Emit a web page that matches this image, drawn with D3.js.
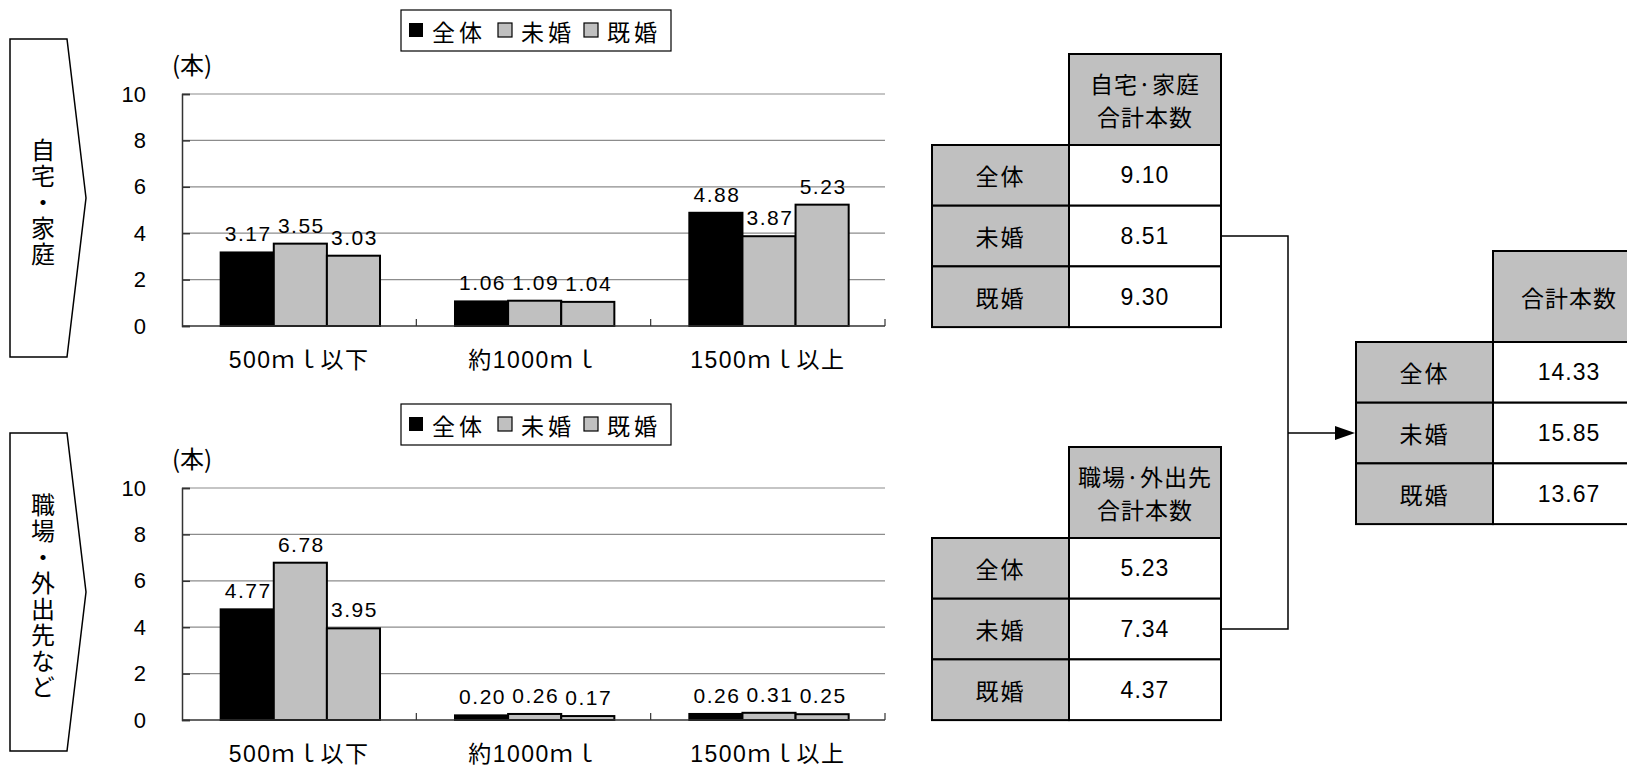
<!DOCTYPE html>
<html>
  <head>
    <meta charset="utf-8">
    <title>本数</title>
    <style>
      body { margin: 0; background: #fff; }
      svg { display: block; }
    </style>
  </head>
  <body>
    <div id="container"></div>
    <script src="https://cdn.jsdelivr.net/npm/d3@7/dist/d3.min.js"></script>
    <script>
      // data
      var categories = ["500ｍｌ以下", "約1000ｍｌ", "1500ｍｌ以上"];
      var groups = ["全体", "未婚", "既婚"];
      var yTicks = [0, 2, 4, 6, 8, 10];

      var homeAll = [3.17, 1.06, 4.88];
      var homeSingle = [3.55, 1.09, 3.87];
      var homeMarried = [3.03, 1.04, 5.23];

      var outAll = [4.77, 0.20, 0.26];
      var outSingle = [6.78, 0.26, 0.31];
      var outMarried = [3.95, 0.17, 0.25];

      var homeTotals = [9.10, 8.51, 9.30];
      var outTotals = [5.23, 7.34, 4.37];
      var grandTotals = [14.33, 15.85, 13.67];

      var homeTitle = "自宅・家庭";
      var outTitle = "職場・外出先など";

      var W = 1627, H = 768;
      var fills = ["#000000", "#c0c0c0", "#c0c0c0"];
      var latin = "'Liberation Sans', Arial, 'Noto Sans CJK JP', sans-serif";
      var cjk = "'Noto Sans CJK JP', 'Liberation Sans', sans-serif";

      var svg = d3.select("#container").append("svg")
        .attr("width", W)
        .attr("height", H);

      function drawChart(top, series, title) {
        var x0 = d3.scaleBand().domain(categories).range([182, 885]);
        var x1 = d3.scaleBand().domain(groups)
          .range([x0.bandwidth() * 0.165, x0.bandwidth() * 0.845]);
        var y = d3.scaleLinear().domain([0, 10]).range([top + 232, top]);

        var g = svg.append("g");

        // arrow-shaped side box
        var b0 = top - 55, b1 = top + 263;
        g.append("path")
          .attr("d", "M10," + b0 + "L67," + b0 + "L86," + ((b0 + b1) / 2) +
                     "L67," + b1 + "L10," + b1 + "Z")
          .attr("fill", "#fff")
          .attr("stroke", "#000")
          .attr("stroke-width", 1.5);

        g.append("text")
          .text(title)
          .attr("x", 43)
          .attr("y", (b0 + b1) / 2 + 5)
          .attr("text-anchor", "middle")
          .style("writing-mode", "vertical-rl")
          .attr("font-family", cjk)
          .attr("font-size", 24)
          .attr("letter-spacing", 2)
          .attr("fill", "#000");

        // gridlines
        g.selectAll(".grid")
          .data(yTicks.slice(1))
          .enter().append("line")
            .attr("x1", 182).attr("x2", 885)
            .attr("y1", function(d) { return y(d); })
            .attr("y2", function(d) { return y(d); })
            .attr("stroke", "#8c8c8c")
            .attr("stroke-width", 1.2);

        // y axis
        var ya = g.append("g")
          .attr("transform", "translate(182,0)")
          .call(d3.axisRight(y).tickValues(yTicks).tickSize(8).tickFormat(""));
        ya.selectAll("path, line").attr("stroke", "#333").attr("stroke-width", 1.5);

        g.selectAll(".ytl")
          .data(yTicks)
          .enter().append("text")
            .text(function(d) { return d; })
            .attr("x", 146)
            .attr("y", function(d) { return y(d); })
            .attr("text-anchor", "end")
            .attr("dominant-baseline", "central")
            .attr("font-family", latin)
            .attr("font-size", 22)
            .attr("fill", "#000");

        g.append("text")
          .text("(本)")
          .attr("x", 192)
          .attr("y", top - 31)
          .attr("text-anchor", "middle")
          .attr("dominant-baseline", "central")
          .attr("font-family", cjk)
          .attr("font-size", 24)
          .attr("fill", "#000");

        // bars
        var rows = categories.map(function(c, i) {
          return groups.map(function(s, j) {
            return {cat: c, grp: s, j: j, v: series[j][i]};
          });
        });

        var cat = g.selectAll(".cat")
          .data(rows)
          .enter().append("g")
            .attr("transform", function(d) { return "translate(" + x0(d[0].cat) + ",0)"; });

        cat.selectAll("rect")
          .data(function(d) { return d; })
          .enter().append("rect")
            .attr("x", function(d) { return x1(d.grp); })
            .attr("width", x1.bandwidth())
            .attr("y", function(d) { return y(d.v); })
            .attr("height", function(d) { return y(0) - y(d.v); })
            .attr("fill", function(d) { return fills[d.j]; })
            .attr("stroke", "#000")
            .attr("stroke-width", 2);

        cat.selectAll(".lbl")
          .data(function(d) { return d; })
          .enter().append("text")
            .text(function(d) { return d.v.toFixed(2); })
            .attr("x", function(d) { return x1(d.grp) + x1.bandwidth() / 2 + 1; })
            .attr("y", function(d) { return y(d.v) - 11; })
            .attr("text-anchor", "middle")
            .attr("font-family", latin)
            .attr("font-size", 21)
            .attr("letter-spacing", 1.5)
            .attr("fill", "#000");

        // x axis
        var xa = g.append("g")
          .attr("transform", "translate(0," + y(0) + ")");
        xa.append("line")
          .attr("x1", 182).attr("x2", 885)
          .attr("stroke", "#333").attr("stroke-width", 1.5);
        xa.selectAll(".xt")
          .data(categories)
          .enter().append("line")
            .attr("x1", function(d) { return x0(d) + x0.bandwidth(); })
            .attr("x2", function(d) { return x0(d) + x0.bandwidth(); })
            .attr("y1", 0).attr("y2", -7)
            .attr("stroke", "#333").attr("stroke-width", 1.2);
        xa.selectAll(".xl")
          .data(categories)
          .enter().append("text")
            .text(function(d) { return d; })
            .attr("x", function(d) { return x0(d) + x0.bandwidth() / 2; })
            .attr("y", 34)
            .attr("text-anchor", "middle")
            .attr("dominant-baseline", "central")
            .attr("font-family", latin)
            .attr("font-size", 23)
            .attr("letter-spacing", 1.5)
            .attr("fill", "#000");

        // legend
        var lg = g.append("g").attr("transform", "translate(0," + (top - 84) + ")");
        lg.append("rect")
          .attr("x", 401).attr("y", 0)
          .attr("width", 270).attr("height", 41)
          .attr("fill", "#fff")
          .attr("stroke", "#000")
          .attr("stroke-width", 1.2);
        var lx = [409, 498, 584];
        groups.forEach(function(s, j) {
          lg.append("rect")
            .attr("x", lx[j]).attr("y", 13)
            .attr("width", 14).attr("height", 14)
            .attr("fill", fills[j])
            .attr("stroke", "#000")
            .attr("stroke-width", j == 0 ? 0 : 1.2);
          lg.append("text")
            .text(s)
            .attr("x", lx[j] + 23)
            .attr("y", 21)
            .attr("dominant-baseline", "central")
            .attr("font-family", cjk)
            .attr("font-size", 23)
            .attr("letter-spacing", 4)
            .attr("fill", "#000");
        });
      }

      function drawTable(left, top, header, values) {
        var lw = 137, vw = 152, hh = 91, rh = 60.7;
        var g = svg.append("g");
        g.append("rect")
          .attr("x", left + lw).attr("y", top)
          .attr("width", vw).attr("height", hh)
          .attr("fill", "#c0c0c0").attr("stroke", "#000").attr("stroke-width", 2);
        header.forEach(function(line, i) {
          g.append("text")
            .text(line)
            .attr("x", left + lw + vw / 2)
            .attr("y", top + hh / 2 + (i - (header.length - 1) / 2) * 33)
            .attr("text-anchor", "middle")
            .attr("dominant-baseline", "central")
            .attr("font-family", cjk)
            .attr("font-size", 23)
            .attr("letter-spacing", 1)
            .attr("fill", "#000");
        });
        groups.forEach(function(s, i) {
          var ry = top + hh + i * rh;
          g.append("rect")
            .attr("x", left).attr("y", ry)
            .attr("width", lw).attr("height", rh)
            .attr("fill", "#c0c0c0").attr("stroke", "#000").attr("stroke-width", 2);
          g.append("rect")
            .attr("x", left + lw).attr("y", ry)
            .attr("width", vw).attr("height", rh)
            .attr("fill", "#fff").attr("stroke", "#000").attr("stroke-width", 2);
          g.append("text")
            .text(s)
            .attr("x", left + lw / 2)
            .attr("y", ry + rh / 2)
            .attr("text-anchor", "middle")
            .attr("dominant-baseline", "central")
            .attr("font-family", cjk)
            .attr("font-size", 23)
            .attr("letter-spacing", 2)
            .attr("fill", "#000");
          g.append("text")
            .text(values[i].toFixed(2))
            .attr("x", left + lw + vw / 2)
            .attr("y", ry + rh / 2)
            .attr("text-anchor", "middle")
            .attr("dominant-baseline", "central")
            .attr("font-family", latin)
            .attr("font-size", 23)
            .attr("letter-spacing", 1)
            .attr("fill", "#000");
        });
        return {right: left + lw + vw, mid: top + hh + 1.5 * rh, left: left};
      }

      drawChart(94, [homeAll, homeSingle, homeMarried], homeTitle);
      drawChart(488, [outAll, outSingle, outMarried], outTitle);

      var t1 = drawTable(932, 54, ["自宅·家庭", "合計本数"], homeTotals);
      var t2 = drawTable(932, 447, ["職場·外出先", "合計本数"], outTotals);
      var t3 = drawTable(1356, 251, ["合計本数"], grandTotals);

      // connectors
      var jx = 1288;
      svg.append("path")
        .attr("d", "M" + t1.right + "," + t1.mid + "H" + jx + "V" + t2.mid + "H" + t2.right)
        .attr("fill", "none").attr("stroke", "#000").attr("stroke-width", 1.5);
      svg.append("line")
        .attr("x1", jx).attr("x2", t3.left - 20)
        .attr("y1", t3.mid).attr("y2", t3.mid)
        .attr("stroke", "#000").attr("stroke-width", 1.5);
      svg.append("path")
        .attr("d", "M" + (t3.left - 21) + "," + (t3.mid - 7) + "L" + (t3.left - 1) + "," + t3.mid +
                   "L" + (t3.left - 21) + "," + (t3.mid + 7) + "Z")
        .attr("fill", "#000");
    </script>
  </body>
</html>
